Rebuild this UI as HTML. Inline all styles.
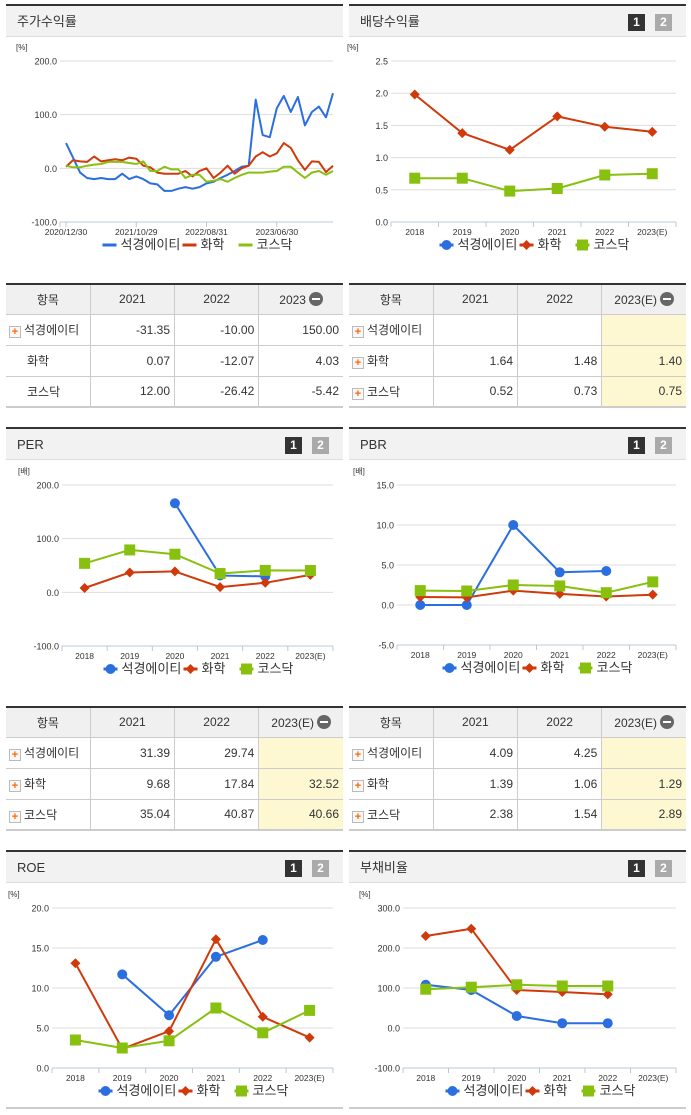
<!DOCTYPE html>
<html><head><meta charset="utf-8">
<style>
*{box-sizing:border-box;margin:0;padding:0}
body{width:691px;height:1115px;background:#fff;position:relative;overflow:hidden;font-family:"Liberation Sans","Noto Sans CJK KR",sans-serif;color:#333}
.panel{position:absolute;border-top:2px solid #333}
.hdr{position:absolute;left:0;right:0;top:0;height:31px;background:#f2f2f2;border-bottom:1px solid #ddd;font-size:13px;line-height:31px;padding-left:11px;color:#333}
.btn{position:absolute;top:8px;width:17px;height:17px;font-size:12px;font-weight:bold;color:#fff;text-align:center;line-height:17px}
.b1{right:41px;background:#333}.b2{right:14px;background:#aaa}
table{position:absolute;border-collapse:collapse;border-top:2px solid #333;border-bottom:2px solid #ccc;font-size:12px;table-layout:fixed}
th{background:#f0f0f0;font-weight:normal;height:30px;border:1px solid #ccc;border-top:none}
td{height:31px;border:1px solid #ccc;text-align:right;padding-right:4px}
th:first-child,td:first-child{border-left:none}
th:last-child,td:last-child{border-right:none}
td.n{text-align:left;padding-left:3px}
.pl{display:inline-block;width:12px;height:12px;border:1px solid #bbb;background:#f8f8f8;color:#f60;font-size:11px;line-height:10px;text-align:center;font-weight:bold;margin-right:3px;vertical-align:-1px}
.sp{display:inline-block;width:15px;margin-right:3px}
.mi{display:inline-block;width:14px;height:14px;border-radius:7px;background:#666;vertical-align:-2px;margin-left:3px;position:relative}
.mi:after{content:"";position:absolute;left:3px;top:6px;width:8px;height:2px;background:#fff}
.y{background:#fdf8d2}
svg{position:absolute;left:0;top:0}
</style></head><body>
<div class="panel" style="left:6px;top:4px;width:337px;height:250px"><div class="hdr">주가수익률</div></div>
<div class="panel" style="left:349px;top:4px;width:337px;height:250px"><div class="hdr">배당수익률</div><div class="btn b1">1</div><div class="btn b2">2</div></div>
<div class="panel" style="left:6px;top:427px;width:337px;height:250px"><div class="hdr">PER</div><div class="btn b1">1</div><div class="btn b2">2</div></div>
<div class="panel" style="left:349px;top:427px;width:337px;height:250px"><div class="hdr">PBR</div><div class="btn b1">1</div><div class="btn b2">2</div></div>
<div class="panel" style="left:6px;top:850px;width:337px;height:259px;border-bottom:2px solid #ccc"><div class="hdr">ROE</div><div class="btn b1">1</div><div class="btn b2">2</div></div>
<div class="panel" style="left:349px;top:850px;width:337px;height:259px;border-bottom:2px solid #ccc"><div class="hdr">부채비율</div><div class="btn b1">1</div><div class="btn b2">2</div></div>

<table style="left:6px;top:283px;width:337px">
<tr><th>항목</th><th>2021</th><th>2022</th><th>2023<span class="mi"></span></th></tr>
<tr><td class="n"><span class="pl">+</span>석경에이티</td><td>-31.35</td><td>-10.00</td><td>150.00</td></tr>
<tr><td class="n"><span class="sp"></span>화학</td><td>0.07</td><td>-12.07</td><td>4.03</td></tr>
<tr><td class="n"><span class="sp"></span>코스닥</td><td>12.00</td><td>-26.42</td><td>-5.42</td></tr></table>
<table style="left:349px;top:283px;width:337px">
<tr><th>항목</th><th>2021</th><th>2022</th><th>2023(E)<span class="mi"></span></th></tr>
<tr><td class="n"><span class="pl">+</span>석경에이티</td><td></td><td></td><td class="y"></td></tr>
<tr><td class="n"><span class="pl">+</span>화학</td><td>1.64</td><td>1.48</td><td class="y">1.40</td></tr>
<tr><td class="n"><span class="pl">+</span>코스닥</td><td>0.52</td><td>0.73</td><td class="y">0.75</td></tr></table>
<table style="left:6px;top:706px;width:337px">
<tr><th>항목</th><th>2021</th><th>2022</th><th>2023(E)<span class="mi"></span></th></tr>
<tr><td class="n"><span class="pl">+</span>석경에이티</td><td>31.39</td><td>29.74</td><td class="y"></td></tr>
<tr><td class="n"><span class="pl">+</span>화학</td><td>9.68</td><td>17.84</td><td class="y">32.52</td></tr>
<tr><td class="n"><span class="pl">+</span>코스닥</td><td>35.04</td><td>40.87</td><td class="y">40.66</td></tr></table>
<table style="left:349px;top:706px;width:337px">
<tr><th>항목</th><th>2021</th><th>2022</th><th>2023(E)<span class="mi"></span></th></tr>
<tr><td class="n"><span class="pl">+</span>석경에이티</td><td>4.09</td><td>4.25</td><td class="y"></td></tr>
<tr><td class="n"><span class="pl">+</span>화학</td><td>1.39</td><td>1.06</td><td class="y">1.29</td></tr>
<tr><td class="n"><span class="pl">+</span>코스닥</td><td>2.38</td><td>1.54</td><td class="y">2.89</td></tr></table>

<svg id="cv" width="691" height="1115"></svg>
<script>
const seriesNames=["석경에이티","화학","코스닥"];
const colors=["#2a6ee0","#d03a0a","#88c010"];
const years=["2018","2019","2020","2021","2022","2023(E)"];
// stock return
const retDates=["2020/12/30","2021/10/29","2022/08/31","2023/06/30"];
const retBlue=[47,20,-8,-18,-20,-18,-20,-20,-10,-20,-15,-20,-28,-30,-42,-42,-38,-35,-38,-35,-28,-25,-18,-12,-5,3,5,128,62,58,112,135,105,133,80,105,115,95,140];
const retRed=[3,15,13,12,22,13,15,17,15,20,18,5,2,-8,-10,-10,-10,-5,-15,-5,0,-18,-8,5,-10,0,5,22,30,22,28,47,38,15,-3,13,12,-7,5];
const retGreen=[5,2,2,5,7,8,12,12,12,10,8,13,-5,-5,3,-2,-2,-18,-12,-12,-25,-23,-20,-25,-18,-12,-8,-8,-8,-6,-5,3,3,-8,-18,-8,-5,-12,-5];
const retTicks=["200.0","100.0","0.0","-100.0"];
// dividend
const divBlue=[null,null,null,null,null,null];
const divRed=[1.98,1.38,1.12,1.64,1.48,1.40];
const divGreen=[0.68,0.68,0.48,0.52,0.73,0.75];
const divTicks=["2.5","2.0","1.5","1.0","0.5","0.0"];
// PER
const perBlue=[null,null,166,31.39,29.74,null];
const perRed=[8,37,39,9.68,17.84,32.52];
const perGreen=[54,79,71,35.04,40.87,40.66];
const perTicks=["200.0","100.0","0.0","-100.0"];
// PBR
const pbrBlue=[0,0,10,4.09,4.25,null];
const pbrRed=[1.0,0.95,1.8,1.39,1.06,1.29];
const pbrGreen=[1.8,1.75,2.5,2.38,1.54,2.89];
const pbrTicks=["15.0","10.0","5.0","0.0","-5.0"];
// ROE
const roeBlue=[null,11.7,6.6,13.9,16.0,null];
const roeRed=[13.1,2.4,4.6,16.1,6.4,3.8];
const roeGreen=[3.5,2.5,3.4,7.5,4.4,7.2];
const roeTicks=["20.0","15.0","10.0","5.0","0.0"];
// debt
const debtBlue=[108,95,30,12,12,null];
const debtRed=[230,248,95,90,84,null];
const debtGreen=[97,102,108,105,105,null];
const debtTicks=["300.0","200.0","100.0","0.0","-100.0"];

const NS="http://www.w3.org/2000/svg";const cv=document.getElementById('cv');
function mk(t,a,p){const e=document.createElementNS(NS,t);for(const k in a)e.setAttribute(k,a[k]);(p||cv).appendChild(e);return e;}
function txt(x,y,s,anchor,size,fill,p){const t=mk('text',{x:x,y:y,'text-anchor':anchor||'middle','font-size':size||10,fill:fill||'#333','font-family':'Liberation Sans, Noto Sans CJK KR, sans-serif'},p);t.textContent=s;return t;}
function marker(g,i,x,y){
 if(i===0)mk('circle',{cx:x,cy:y,r:5,fill:colors[0]},g);
 else if(i===1)mk('path',{d:`M${x} ${y-5}L${x+5} ${y}L${x} ${y+5}L${x-5} ${y}Z`,fill:colors[1]},g);
 else mk('rect',{x:x-5.5,y:y-5.5,width:11,height:11,fill:colors[2]},g);
}
function chart(name,L,series,ticks,unit,cats,useMarkers){
 const g=mk('g',{});
 
 
 const max=parseFloat(ticks[0]),min=parseFloat(ticks[ticks.length-1]);
 const ys=v=>L.top+(max-v)/(max-min)*(L.bot-L.top);
 txt(L.left-44,L.top-11,unit,'start',8,'#333',g);
 ticks.forEach(t=>{const y=ys(parseFloat(t));
  if(parseFloat(t)!==min){const l=mk('line',{x1:L.left,x2:L.right,y1:y,y2:y,stroke:'#ddd'},g);}
  const tt=txt(L.left-3,y+3.5,t,'end',9,'#333',g);});
 mk('line',{x1:L.left,x2:L.right,y1:L.bot,y2:L.bot,stroke:'#b8c8dc'},g);
 const n=series[0].length;
 let xs;
 if(useMarkers){const w=(L.right-L.left)/n;xs=i=>L.left+w*(i+0.5);
  for(let i=0;i<=n;i++)mk('line',{x1:L.left+w*i,x2:L.left+w*i,y1:L.bot,y2:L.bot+5,stroke:'#b8c8dc'},g);
  cats.forEach((c,i)=>{const t=txt(xs(i),L.bot+13,c,'middle',8.5,'#333',g);});
 }else{const w=(L.right-L.left-6)/(n-1);xs=i=>L.left+6+w*i;
  mk('line',{x1:L.left,x2:L.left,y1:L.bot,y2:L.bot+5,stroke:'#b8c8dc'},g);
  cats.forEach((c,i)=>{const idx=Math.round(i*(n-1)*0.262);const x=xs(idx);mk('line',{x1:x,x2:x,y1:L.bot,y2:L.bot+5,stroke:'#b8c8dc'},g);const t=txt(x,L.bot+13,c,'middle',8.5,'#333',g);});
 }
 series.forEach((s,si)=>{
  let d='',pen=false;
  s.forEach((v,i)=>{if(v===null){pen=false;return;}d+=(pen?'L':'M')+xs(i).toFixed(1)+' '+ys(v).toFixed(1);pen=true;});
  if(d){const p=mk('path',{d:d,fill:'none',stroke:colors[si],'stroke-width':2,'stroke-linejoin':'round'},g);}
  if(useMarkers)s.forEach((v,i)=>{if(v!==null)marker(g,si,xs(i),ys(v));});
 });
 const ly=L.bot+27,cx=(L.left+L.right)/2-2;const offs=[-92,-12,44];
 seriesNames.forEach((nm,i)=>{const x=cx+offs[i];
  const lg=mk('g',{},g);
  
  
  mk('line',{x1:x,x2:x+14,y1:ly-4,y2:ly-4,stroke:colors[i],'stroke-width':3},lg);
  if(useMarkers)marker(lg,i,x+7,ly-4);
  txt(x+18,ly,nm,'start',13,'#333',lg);
 });
}
chart('stock-return-chart',{left:60,right:333,top:61,bot:222},[retBlue,retRed,retGreen],retTicks,'[%]',retDates,false);
chart('dividend-chart',{left:391,right:676,top:61,bot:222},[divBlue,divRed,divGreen],divTicks,'[%]',years,true);
chart('per-chart',{left:62,right:333,top:485,bot:646},[perBlue,perRed,perGreen],perTicks,'[배]',years,true);
chart('pbr-chart',{left:397,right:676,top:485,bot:645},[pbrBlue,pbrRed,pbrGreen],pbrTicks,'[배]',years,true);
chart('roe-chart',{left:52,right:333,top:908,bot:1068},[roeBlue,roeRed,roeGreen],roeTicks,'[%]',years,true);
chart('debt-chart',{left:403,right:676,top:908,bot:1068},[debtBlue,debtRed,debtGreen],debtTicks,'[%]',years,true);
</script>
</body></html>
